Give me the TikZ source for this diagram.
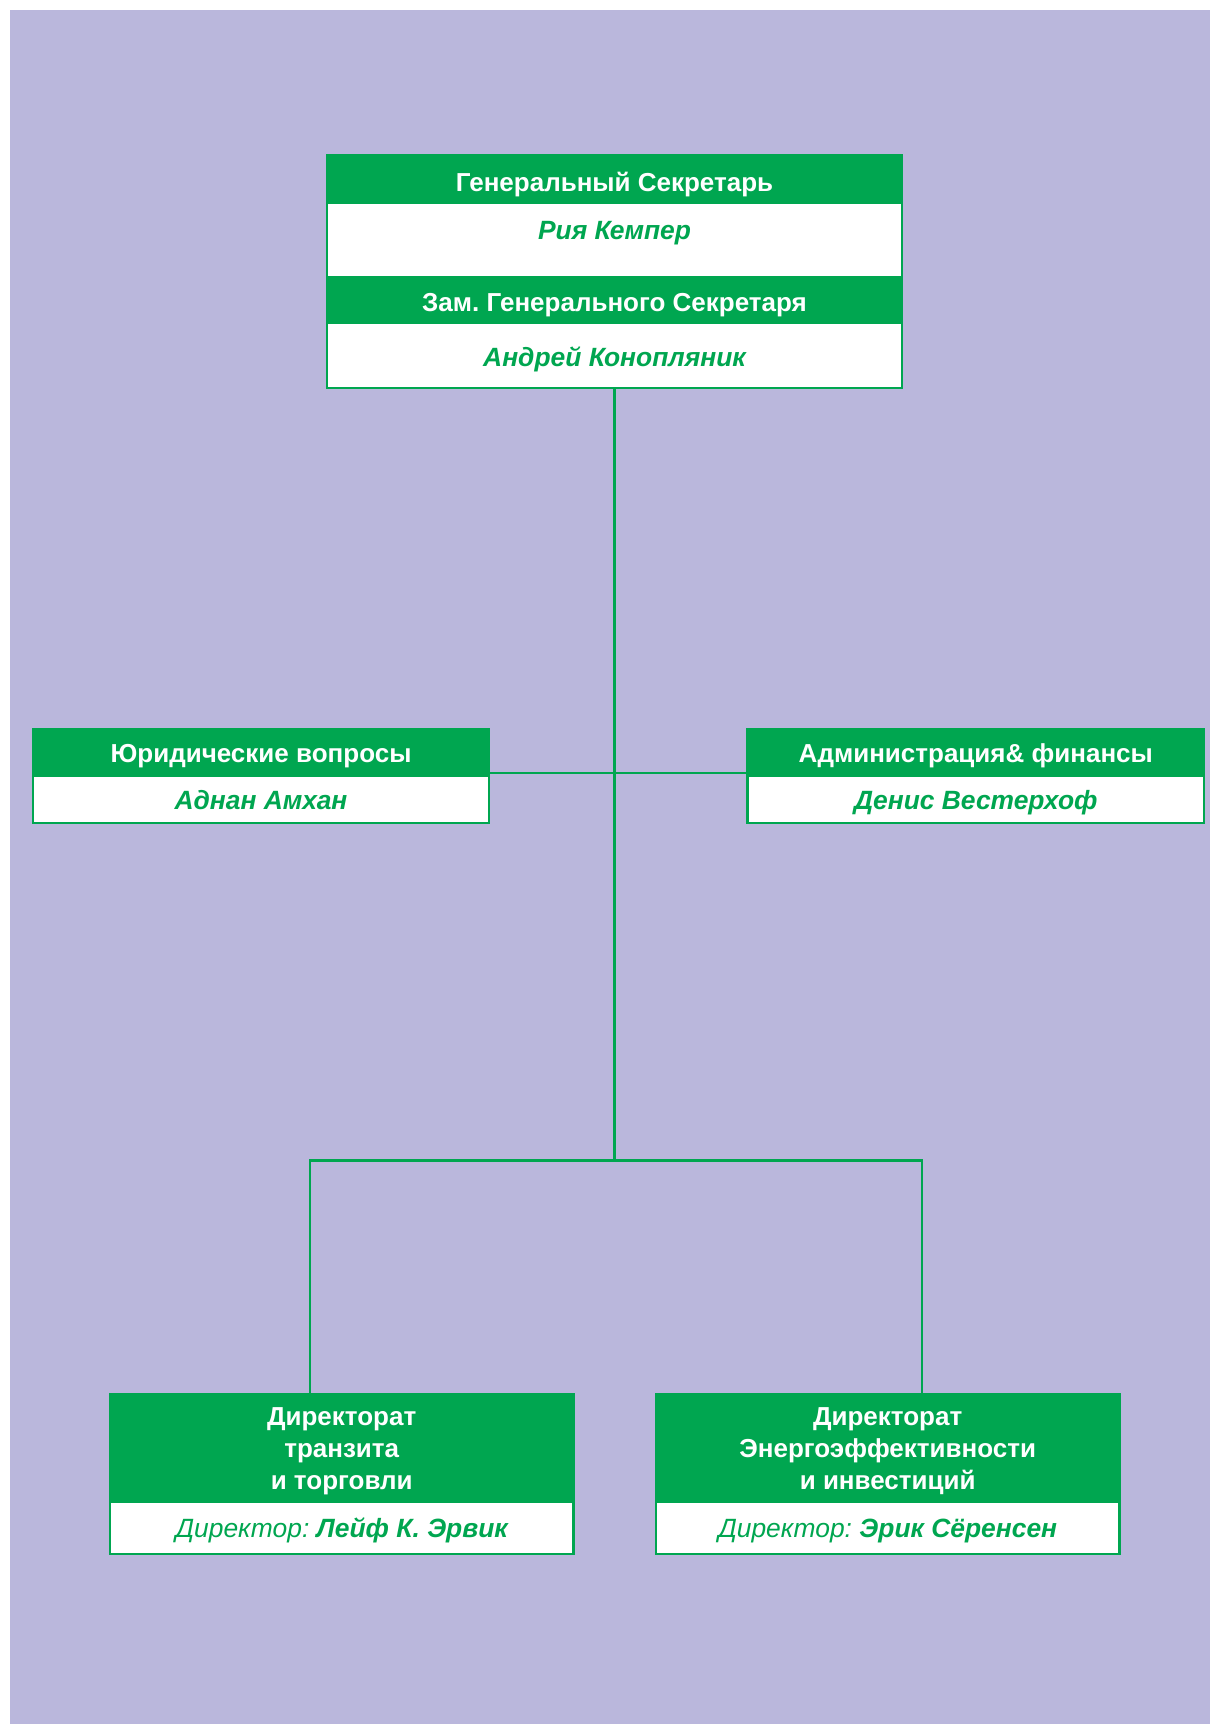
\documentclass[tikz,border=0pt]{standalone}
\usepackage{fontspec}
\setmainfont{Liberation Sans}
\usetikzlibrary{positioning}
\frenchspacing

\definecolor{ecgreen}{HTML}{00A650}
\definecolor{ecpurple}{HTML}{BAB7DC}
\newcommand{\titlefont}{\fontsize{13}{16}\selectfont\bfseries}
\newcommand{\personfont}{\fontsize{13.2}{15.5}\selectfont\bfseries\itshape}

\tikzstyle{boxbase}=[shape=rectangle,
                line width=1.1pt,
                inner sep=0pt,
                outer sep=0pt]
\tikzstyle{titlebox}=[boxbase,
                fill=ecgreen,
                draw=ecgreen,
                text=white,
                font=\titlefont,
                text height=9.3pt,
                text depth=0pt]
\tikzstyle{dirbox}=[boxbase,
                fill=ecgreen,
                draw=ecgreen,
                text=white,
                font=\titlefont,
                text depth=0pt,
                align=center]
\tikzstyle{personbox}=[boxbase,
                fill=white,
                draw=ecgreen,
                text=ecgreen,
                font=\personfont,
                text height=9.45pt,
                text depth=0pt]
\tikzstyle{link}=[draw=ecgreen, line width=1.1pt]

\begin{document}
\begin{tikzpicture}[x=0.5pt,y=-0.5pt]

% background
\useasboundingbox (0,0) rectangle (1210,1724);
\fill[ecpurple] (10,10) rectangle (1210,1724);

% secretariat (top)
\node[titlebox,anchor=north,minimum width=287.2pt,text height=18.5pt,text depth=5.5pt] (gs) at (614.5,154.7) {Генеральный Секретарь};
\node[personbox,minimum width=287.2pt,text height=18.3pt,text depth=18.7pt] (gsname) [below=0pt of gs] {Рия Кемпер};
\node[titlebox,minimum width=287.2pt,text height=17.5pt,text depth=5.8pt] (dep) [below=0pt of gsname] {Зам. Генерального Секретаря};
\node[personbox,minimum width=287.2pt,text height=21.7pt,text depth=10.8pt] (depname) [below=0pt of dep] {Андрей Конопляник};

% side units
\node[titlebox,anchor=north,minimum width=228.3pt,minimum height=23.5pt] (legal) at (261,729.3) {Юридические вопросы};
\node[personbox,minimum width=228.3pt,minimum height=23.5pt] (legalname) [below=0pt of legal] {Аднан Амхан};
\node[titlebox,anchor=north,minimum width=228.3pt,minimum height=23.5pt] (admin) at (975.8,729.3) {Администрация\& финансы};
\node[personbox,minimum width=228.3pt,minimum height=23.5pt] (adminname) [below=0pt of admin] {Денис Вестерхоф};

% directorates (bottom)
\node[dirbox,anchor=north,minimum width=231.7pt,minimum height=53.75pt] (transit) at (341.7,1394.5) {Директорат\\транзита\\и торговли};
\node[personbox,minimum width=231.7pt,minimum height=26pt] (transitname) [below=0pt of transit] {{\mdseries Директор:} Лейф К. Эрвик};
\node[dirbox,anchor=north,minimum width=231.7pt,minimum height=53.75pt] (energy) at (887.7,1394.5) {Директорат\\Энергоэффективности\\и инвестиций};
\node[personbox,minimum width=231.7pt,minimum height=26pt] (energyname) [below=0pt of energy] {{\mdseries Директор:} Эрик Сёренсен};

% connectors
\coordinate (fork) at (614.5,1160.5);
\draw[link] (depname.south) -- (fork);
\draw[link] ([yshift=1.6pt]legal.south east) -- ([yshift=1.6pt]admin.south west);
\draw[link] ([xshift=-15.85pt]transit.north) |- (fork) -| ([xshift=17pt]energy.north);
\end{tikzpicture}
\end{document}
